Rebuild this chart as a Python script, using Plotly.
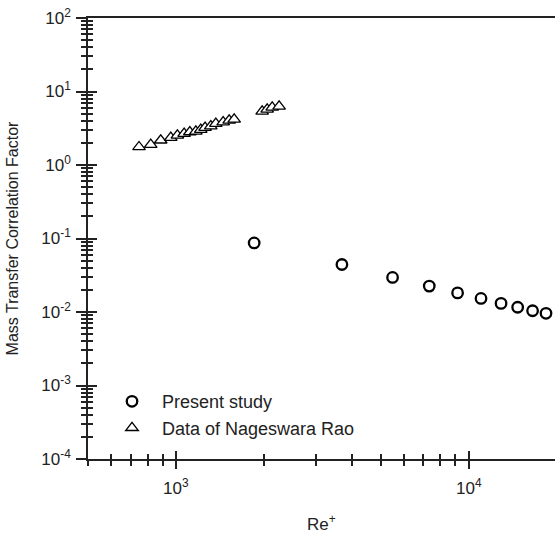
import math
import plotly.graph_objects as go

# Present study (circles)
present_re = [1848, 3686, 5490, 7328, 9157, 11010, 12890, 14690, 16520, 18360]
present_f = [0.0871, 0.0443, 0.0295, 0.0225, 0.0182, 0.0153, 0.0131, 0.0116, 0.0104, 0.0096]

# Data of Nageswara Rao (triangles)
rao_re = [747, 819, 886, 959, 1010, 1065, 1114, 1168, 1214, 1256, 1314, 1367, 1448, 1518, 1579,
          1968, 2047, 2130, 2249]
rao_f = [1.76, 1.89, 2.17, 2.36, 2.53, 2.67, 2.81, 2.87, 3.03, 3.22, 3.39, 3.65, 3.84, 4.05, 4.18,
         5.37, 5.71, 6.08, 6.28]

y_tickvals = [1e-4, 1e-3, 1e-2, 1e-1, 1, 10, 100]
y_ticktext = ["10<sup>-4</sup>", "10<sup>-3</sup>", "10<sup>-2</sup>", "10<sup>-1</sup>",
              "10<sup>0</sup>", "10<sup>1</sup>", "10<sup>2</sup>"]
x_tickvals = [1e3, 1e4]
x_ticktext = ["10<sup>3</sup>", "10<sup>4</sup>"]

y_minor = [m * 10.0 ** e for e in range(-4, 2) for m in range(2, 10)]
x_minor = [m * 10.0 ** e for e in range(2, 5) for m in range(2, 10)]

FONT = "Liberation Sans, Arial, sans-serif"
INK = "#222222"

fig = go.Figure()
fig.add_trace(go.Scatter(
    x=present_re, y=present_f, mode="markers", name="Present study",
    legendgroup="a",
    marker=dict(symbol="circle", size=10.5, color="white", line=dict(color="black", width=2.3)),
))
fig.add_trace(go.Scatter(
    x=rao_re, y=rao_f, mode="markers", name="Data of Nageswara Rao",
    legendgroup="b",
    marker=dict(symbol="triangle-up", size=11, color="white", line=dict(color="black", width=1.3)),
))
# empty trace that activates the overlay axes (inside ticks -> crossing ticks)
fig.add_trace(go.Scatter(x=[], y=[], xaxis="x2", yaxis="y2", showlegend=False, hoverinfo="skip"))

xr = [math.log10(500), 4.2946]
yr = [-4, 2]

common_axis = dict(type="log", showgrid=False, zeroline=False, linecolor=INK, tickcolor=INK,
                   tickfont=dict(family=FONT, size=17, color=INK))

# x tick labels drawn as text annotations at the tick values
x_label_annots = [dict(text=t, xref="x", yref="paper", x=math.log10(v), y=-0.063,
                       xanchor="center", yanchor="middle", showarrow=False,
                       font=dict(family=FONT, size=17, color=INK))
                  for v, t in zip(x_tickvals, x_ticktext)]

fig.update_layout(
    width=555, height=535,
    margin=dict(l=88, r=0, t=18, b=76),
    paper_bgcolor="white", plot_bgcolor="white",
    font=dict(family=FONT, color=INK),
    showlegend=True,
    legend=dict(x=0.03, y=0.172, xanchor="left", yanchor="top", bgcolor="rgba(0,0,0,0)",
                font=dict(family=FONT, size=18, color=INK), itemwidth=50,
                traceorder="grouped", tracegroupgap=0),
    xaxis=dict(**common_axis, range=xr, showline=True, linewidth=1.5, mirror=True,
               ticks="outside", ticklen=8, tickwidth=1.5,
               tickmode="array", tickvals=x_tickvals, showticklabels=False,
               minor=dict(ticks="outside", ticklen=5, tickwidth=1.5, tickcolor=INK,
                          tickmode="array", tickvals=x_minor, showgrid=False)),
    yaxis=dict(**common_axis, range=yr, showline=True, linewidth=1.5,
               ticks="outside", ticklen=10, tickwidth=1.5,
               tickmode="array", tickvals=y_tickvals, ticktext=y_ticktext,
               ticklabelstandoff=2,
               title=dict(text="Mass Transfer Correlation Factor",
                          font=dict(family=FONT, size=16, color=INK), standoff=19),
               minor=dict(ticks="outside", ticklen=5, tickwidth=1.5, tickcolor=INK,
                          tickmode="array", tickvals=y_minor, showgrid=False)),
    xaxis2=dict(type="log", range=xr, overlaying="x", anchor="y2", side="bottom",
                showgrid=False, zeroline=False, showline=False, showticklabels=False,
                ticks="inside", ticklen=8, tickwidth=1.5, tickcolor=INK,
                tickmode="array", tickvals=x_tickvals,
                minor=dict(ticks="inside", ticklen=5, tickwidth=1.5, tickcolor=INK,
                           tickmode="array", tickvals=x_minor, showgrid=False)),
    yaxis2=dict(type="log", range=yr, overlaying="y", anchor="x2", side="left",
                showgrid=False, zeroline=False, showline=False, showticklabels=False,
                ticks="inside", ticklen=9, tickwidth=1.5, tickcolor=INK,
                tickmode="array", tickvals=y_tickvals,
                minor=dict(ticks="inside", ticklen=5, tickwidth=1.5, tickcolor=INK,
                           tickmode="array", tickvals=y_minor, showgrid=False)),
    annotations=x_label_annots + [
        dict(text="Re<sup>+</sup>", xref="paper", yref="paper", x=0.5, y=-0.146,
             xanchor="center", yanchor="middle", showarrow=False,
             font=dict(family=FONT, size=17, color=INK))],
)

fig.write_html("out.html")
